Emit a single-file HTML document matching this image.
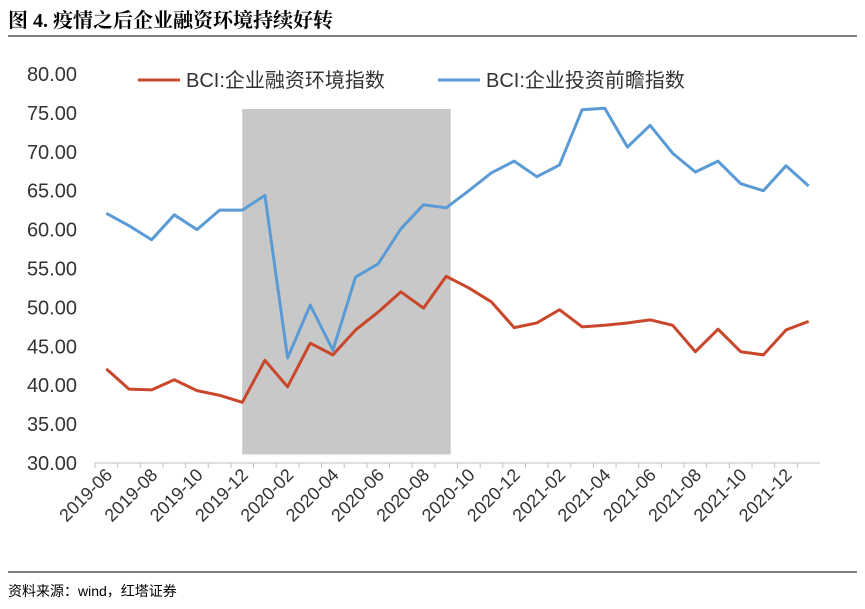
<!DOCTYPE html>
<html><head><meta charset="utf-8"><style>
body{margin:0;background:#fff;width:865px;height:604px;overflow:hidden;font-family:"Liberation Sans","Noto Sans CJK SC",sans-serif}
</style></head><body>
<svg id="c" width="865" height="604" xmlns="http://www.w3.org/2000/svg">
<text x="8" y="27" font-size="20" font-weight="bold" fill="#000" font-family="Liberation Serif,Noto Serif CJK SC,serif">图 4. 疫情之后企业融资环境持续好转</text>
<line x1="8" y1="36" x2="857" y2="36" stroke="#000" stroke-width="1"/>
<line x1="8" y1="572" x2="857" y2="572" stroke="#000" stroke-width="1"/>
<text x="8" y="596" font-size="14" fill="#000" font-family="Liberation Sans,Noto Sans CJK SC,sans-serif">资料来源：wind，红塔证券</text>
<g id="plot"></g>
</svg>
<script>
const categories=[];
for(let y=2019,m=6;categories.length<32;){categories.push(y+'-'+String(m).padStart(2,'0'));m++;if(m>12){m=1;y++;}}
const financing=[42.1,39.5,39.4,40.7,39.3,38.7,37.8,43.2,39.8,45.4,43.9,47.1,49.4,52.0,49.9,54.0,52.5,50.7,47.4,48.0,49.7,47.5,47.7,48.0,48.4,47.7,44.3,47.2,44.3,43.9,47.1,48.2];
const investment=[62.1,60.5,58.7,61.9,60.0,62.5,62.5,64.4,43.5,50.3,44.5,53.9,55.6,60.1,63.2,62.8,65.0,67.3,68.8,66.8,68.3,75.4,75.6,70.6,73.4,69.8,67.4,68.8,65.9,65.0,68.2,65.6];
const yTicks=[30,35,40,45,50,55,60,65,70,75,80];
const shadeRange=['2019-12','2020-09'];
const NS='http://www.w3.org/2000/svg';
const g=document.getElementById('plot');
const x0=95,x1=820,yb=463,yt=74;
const step=(x1-x0)/categories.length;
const X=i=>x0+step*(i+0.5);
const Y=v=>yb-(v-30)/(80-30)*(yb-yt);
function mk(t,a){const e=document.createElementNS(NS,t);for(const k in a)e.setAttribute(k,a[k]);g.appendChild(e);return e;}
const si=categories.indexOf(shadeRange[0]),ei=categories.indexOf(shadeRange[1]);
let r=mk('rect',{x:X(si),y:Y(75.5),width:X(ei)-X(si)+step*0.2,height:Y(31.1)-Y(75.5),fill:'#c8c8c8'});


yTicks.forEach(v=>{const t=mk('text',{x:77,y:Y(v)+7,'text-anchor':'end','font-size':20,fill:'#333'});t.textContent=v.toFixed(2);

});
let ax=mk('line',{x1:x0,y1:yb,x2:x1,y2:yb,stroke:'#bfbfbf'});


categories.forEach((c,i)=>{mk('line',{x1:x0+step*i,y1:yb,x2:x0+step*i,y2:yb+5,stroke:'#bfbfbf'});
if(i%2===0){const x=X(i)+7,y=yb+13;const t=mk('text',{x:x,y:y,'text-anchor':'end','font-size':18,fill:'#333',transform:`rotate(-45 ${x} ${y})`});t.textContent=c;

}});
function line(d,col,name){const p=mk('polyline',{points:d.map((v,i)=>X(i)+','+Y(v)).join(' '),fill:'none',stroke:col,'stroke-width':3,'stroke-linejoin':'round'});

}
line(financing,'#c9472b','financing-line');
line(investment,'#5b9bd5','investment-line');
function leg(x,col,txt,name){const l=mk('line',{x1:x,y1:80,x2:x+42,y2:80,stroke:col,'stroke-width':3});


const t=mk('text',{x:x+48,y:87,'font-size':20,fill:'#333'});t.textContent=txt;

}
leg(138,'#c9472b','BCI:企业融资环境指数','legend-financing');
leg(438,'#5b9bd5','BCI:企业投资前瞻指数','legend-investment');
</script>
</body></html>
